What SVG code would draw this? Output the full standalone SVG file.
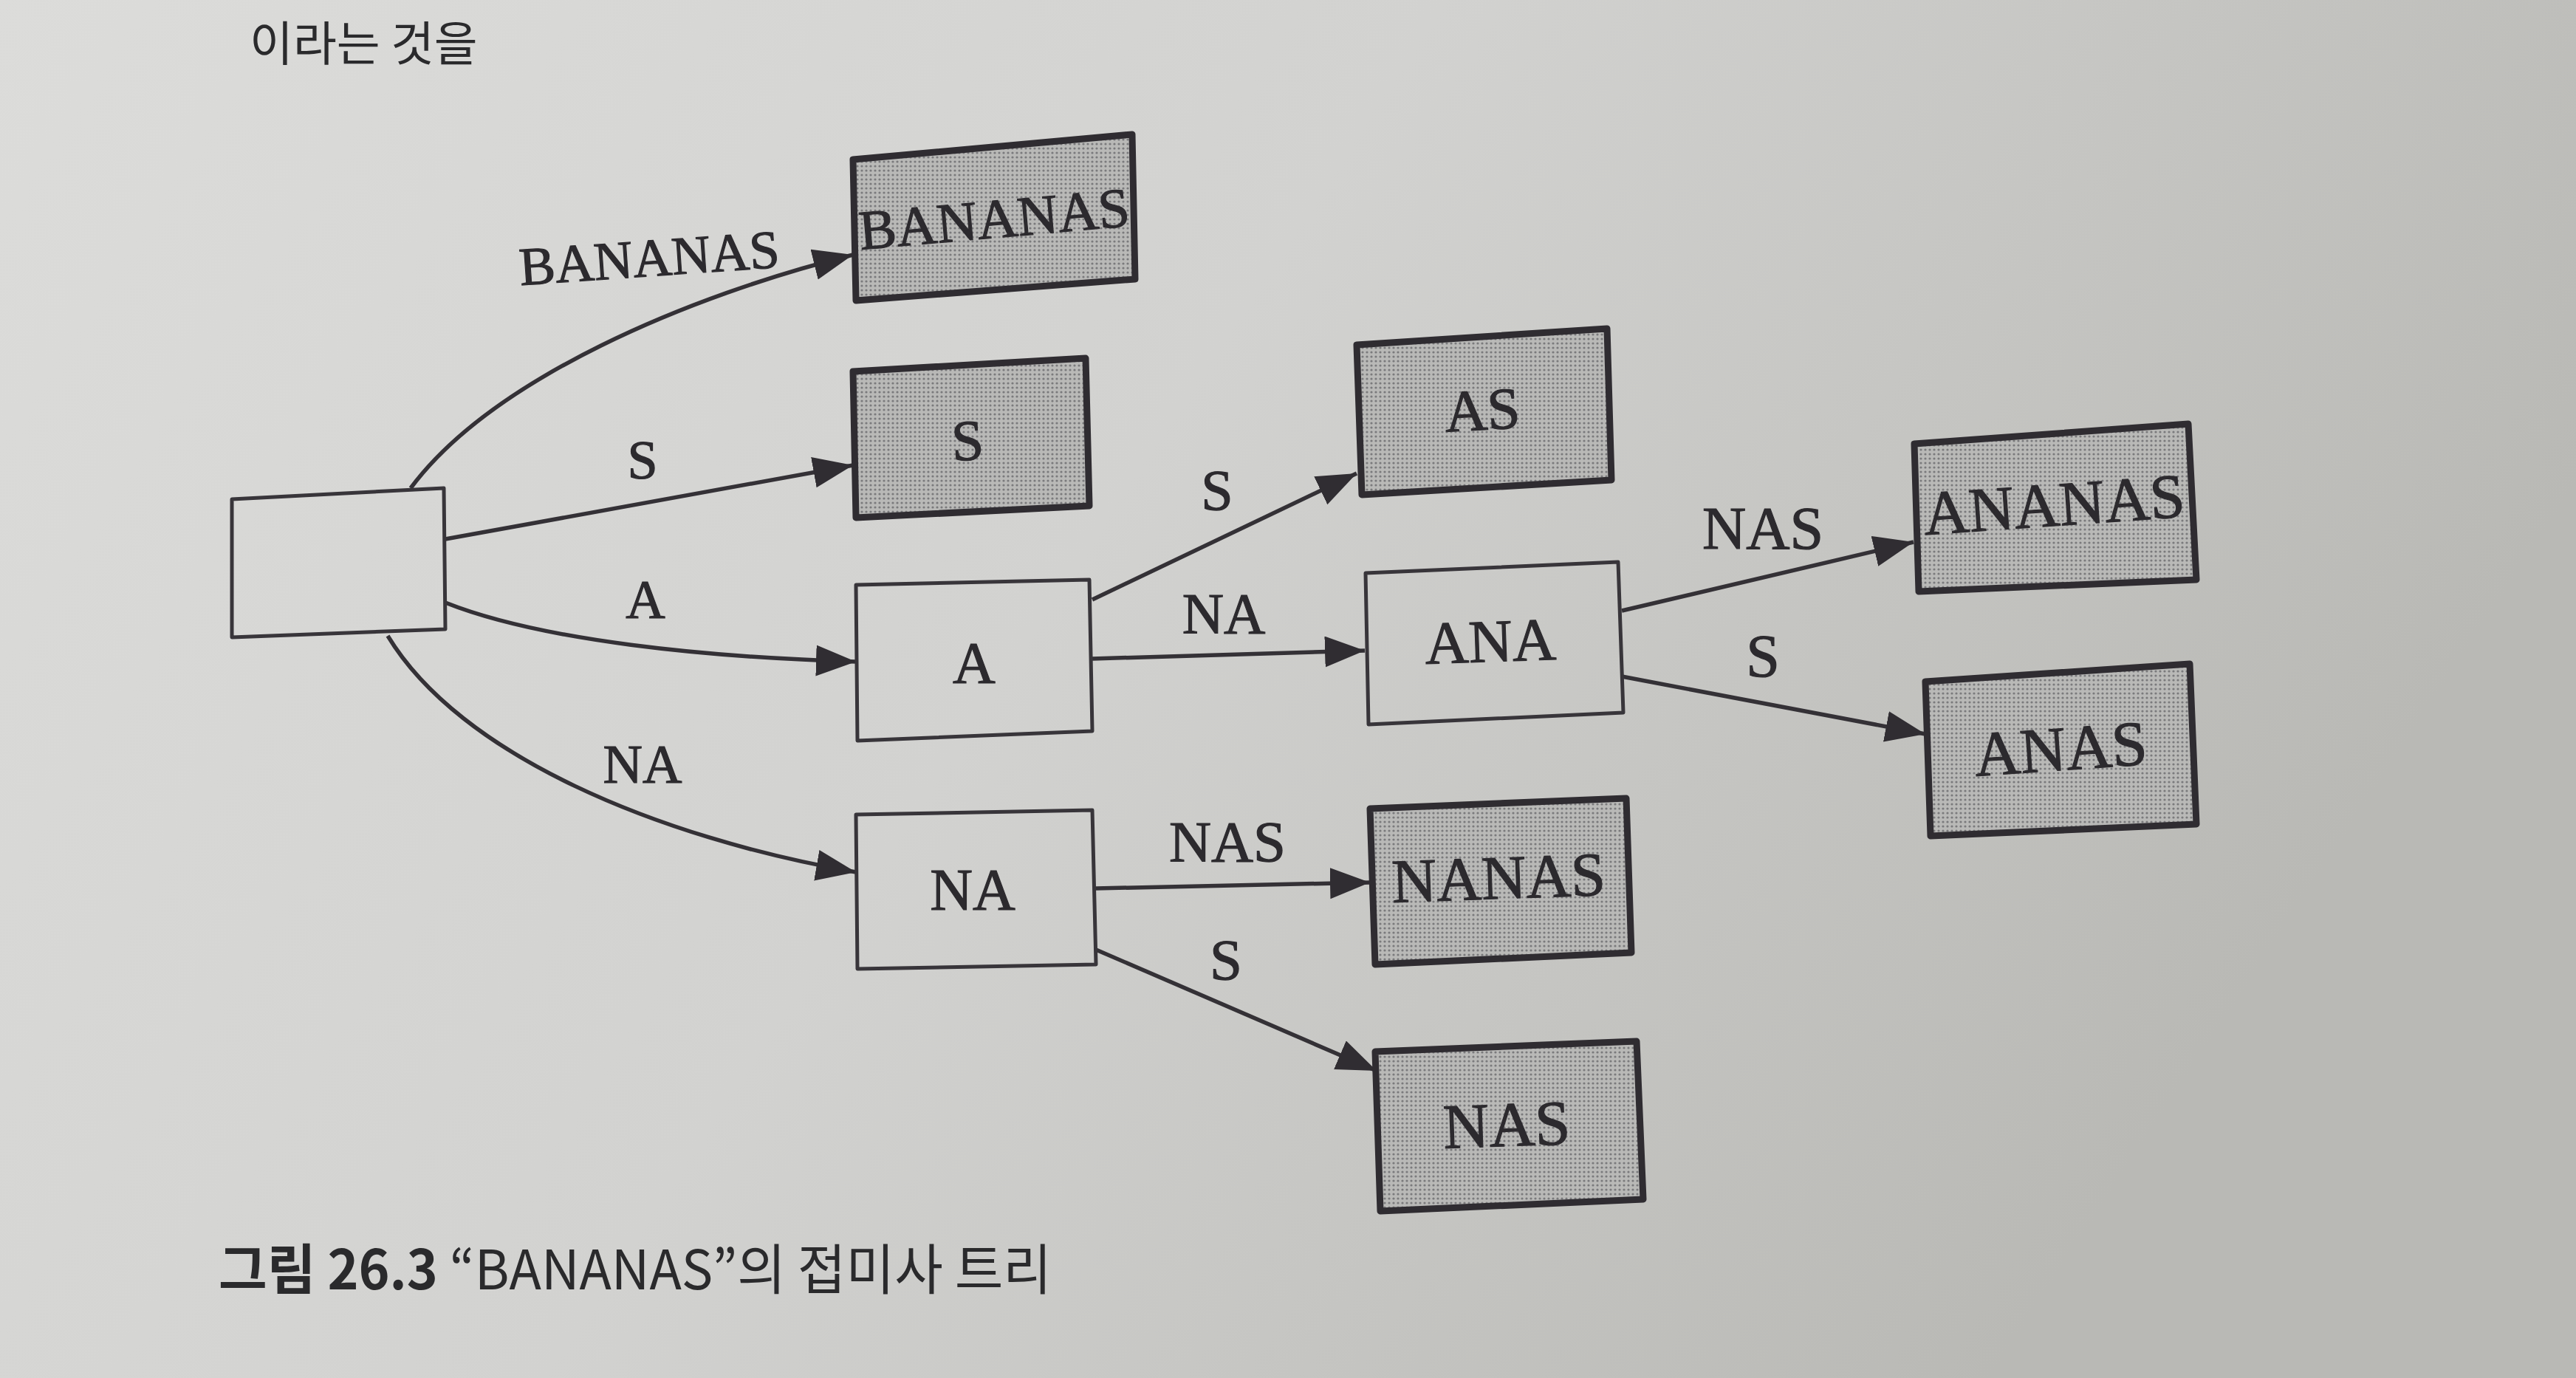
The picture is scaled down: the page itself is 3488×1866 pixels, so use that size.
<svg xmlns="http://www.w3.org/2000/svg" width="3488" height="1866" viewBox="0 0 3488 1866">
<defs>
<linearGradient id="paper" x1="0" y1="0" x2="1" y2="0.35">
<stop offset="0" stop-color="#dcdcda"/>
<stop offset="0.5" stop-color="#d2d2d0"/>
<stop offset="1" stop-color="#b9b9b5"/>
</linearGradient>
<pattern id="dots" width="6" height="6" patternUnits="userSpaceOnUse">
<rect width="6" height="6" fill="#b9b9b7"/>
<circle cx="3" cy="3" r="1.6" fill="#7a7a7c"/>
</pattern>
<marker id="arr" markerUnits="userSpaceOnUse" markerWidth="58" markerHeight="44" refX="54" refY="21" orient="auto" viewBox="0 0 58 44">
<path d="M0,0 L54,21 L0,42 z" fill="#302d32"/>
</marker>
<style>
.leaf{fill:url(#dots);stroke:#2f2c31;stroke-width:9;stroke-linejoin:round}
.inner{fill:none;stroke:#38353a;stroke-width:5;stroke-linejoin:round}
.edge{fill:none;stroke:#343136;stroke-width:5.5;marker-end:url(#arr)}
.lbl{font-family:"Liberation Serif","DejaVu Serif",serif;fill:#2c2a2e;stroke:#2c2a2e;stroke-width:1.2;text-anchor:middle}
.cap{font-family:"Noto Sans CJK KR","Noto Sans",sans-serif;fill:#2a2a2c}
</style>
</defs>
<rect width="3488" height="1866" fill="url(#paper)"/>
<text class="cap" x="338" y="82" font-size="64" fill="#5a5a5c">이라는 것을</text>

<g id="connectors">
<path class="edge" d="M556,661 C667,512 934,400 1155,345"/>
<path class="edge" d="M603,730 L1155,630"/>
<path class="edge" d="M603,816 C734,868 957,890 1159,896"/>
<path class="edge" d="M525,861 C623,1023 890,1134 1159,1181"/>
<path class="edge" d="M1479,812 L1837,641"/>
<path class="edge" d="M1479,892 L1848,881"/>
<path class="edge" d="M1484,1203 L1855,1195"/>
<path class="edge" d="M1484,1286 L1864,1450"/>
<path class="edge" d="M2196,827 L2591,734"/>
<path class="edge" d="M2196,916 L2607,994"/>
<text class="lbl" x="879" y="374" font-size="73" transform="rotate(-4 879 350)">BANANAS</text>
<text class="lbl" x="870" y="648" font-size="74">S</text>
<text class="lbl" x="874" y="837" font-size="74">A</text>
<text class="lbl" x="870" y="1060" font-size="74">NA</text>
<text class="lbl" x="1648" y="690" font-size="78">S</text>
<text class="lbl" x="1657" y="857" font-size="78">NA</text>
<text class="lbl" x="1662" y="1166" font-size="79">NAS</text>
<text class="lbl" x="1660" y="1326" font-size="79">S</text>
<text class="lbl" x="2387" y="743" font-size="82">NAS</text>
<text class="lbl" x="2387" y="916" font-size="82">S</text>
</g>

<g id="root">
<polygon class="inner" points="314,676 601,661 603,852 314,863"/>
</g>
<g id="n-bananas">
<polygon class="leaf" points="1155,216 1533,182 1537,378 1159,407"/>
<text class="lbl" x="1346" y="322" font-size="76" transform="rotate(-5 1346 296)">BANANAS</text>
</g>
<g id="n-s">
<polygon class="leaf" points="1155,503 1470,485 1475,685 1159,701"/>
<text class="lbl" x="1310" y="623" font-size="78" transform="rotate(-3 1310 596)">S</text>
</g>
<g id="n-a">
<polygon class="inner" points="1159,792 1475,785 1479,990 1161,1003"/>
<text class="lbl" x="1319" y="925" font-size="80">A</text>
</g>
<g id="n-na">
<polygon class="inner" points="1159,1103 1479,1097 1484,1306 1161,1312"/>
<text class="lbl" x="1317" y="1232" font-size="80">NA</text>
</g>
<g id="n-as">
<polygon class="leaf" points="1837,467 2176,445 2182,650 1844,670"/>
<text class="lbl" x="2007" y="582" font-size="80" transform="rotate(-3 2007 554)">AS</text>
</g>
<g id="n-ana">
<polygon class="inner" points="1849,776 2191,761 2198,965 1853,981"/>
<text class="lbl" x="2018" y="896" font-size="82" transform="rotate(-2 2018 868)">ANA</text>
</g>
<g id="n-nanas">
<polygon class="leaf" points="1855,1095 2202,1081 2209,1290 1862,1306"/>
<text class="lbl" x="2029" y="1217" font-size="84" transform="rotate(-2 2029 1188)">NANAS</text>
</g>
<g id="n-nas">
<polygon class="leaf" points="1862,1424 2216,1410 2225,1624 1869,1640"/>
<text class="lbl" x="2040" y="1552" font-size="86" transform="rotate(-2 2040 1522)">NAS</text>
</g>
<g id="n-ananas">
<polygon class="leaf" points="2592,601 2963,574 2974,785 2598,801"/>
<text class="lbl" x="2781" y="712" font-size="85" transform="rotate(-4 2781 681)">ANANAS</text>
</g>
<g id="n-anas">
<polygon class="leaf" points="2607,923 2965,899 2974,1116 2614,1132"/>
<text class="lbl" x="2790" y="1043" font-size="86" transform="rotate(-4 2790 1012)">ANAS</text>
</g>

<text class="cap" x="296" y="1746" font-size="74" textLength="1128" lengthAdjust="spacingAndGlyphs"><tspan font-weight="bold">그림 26.3</tspan> “BANANAS”의 접미사 트리</text>
</svg>
